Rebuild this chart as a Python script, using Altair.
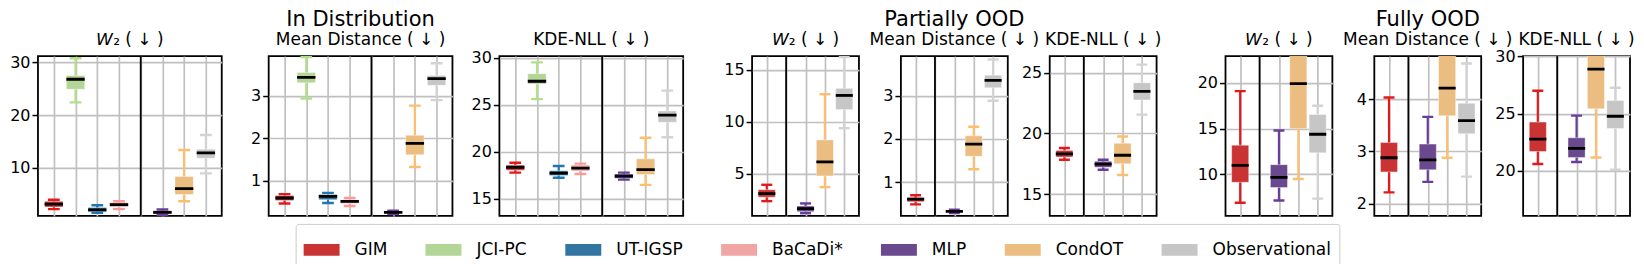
import altair as alt
import pandas as pd

methods = ["GIM", "JCI-PC", "UT-IGSP", "BaCaDi*", "MLP", "CondOT", "Observational"]
box_colors = ["#ca3334", "#b3d595", "#3275a1", "#efa6a5", "#6a498e", "#ebbd81", "#c6c6c6"]
whisker_colors = ["#e31a1c", "#b2df8a", "#1f78b4", "#fb9a99", "#6a3d9a", "#fdbf6f", "#d3d3d3"]

slots_id = ["GIM", "JCI-PC", "UT-IGSP", "BaCaDi*", "|", "MLP", "CondOT", "Observational"]
slots_ood = ["GIM", "|", "MLP", "CondOT", "Observational"]

group_titles = ["In Distribution", "Partially OOD", "Fully OOD"]
metric_titles = ["\U0001D61E\u2082 ( \u2193 )", "Mean Distance ( \u2193 )", "KDE-NLL ( \u2193 )"]

# ---- In Distribution ----
id_w2_lo = [2.1, 22.4, 1.4, 2.1, 1.0, 3.6, 8.9]
id_w2_q1 = [2.5, 24.9, 1.6, 2.5, 1.25, 4.9, 11.8]
id_w2_med = [3.05, 26.8, 1.95, 2.95, 1.5, 6.0, 12.8]
id_w2_q3 = [3.6, 27.5, 2.4, 3.35, 1.8, 8.3, 13.5]
id_w2_hi = [3.9, 30.8, 2.85, 3.6, 2.05, 13.35, 16.2]
id_w2_dom = [0.82, 31.2]
id_w2_ticks = [10, 20, 30]

id_md_lo = [0.46, 2.94, 0.47, 0.40, 0.21, 1.32, 2.90]
id_md_q1 = [0.53, 3.31, 0.55, 0.46, 0.23, 1.61, 3.25]
id_md_med = [0.59, 3.44, 0.63, 0.51, 0.25, 1.88, 3.41]
id_md_q3 = [0.65, 3.55, 0.67, 0.55, 0.27, 2.07, 3.48]
id_md_hi = [0.68, 3.92, 0.71, 0.59, 0.29, 2.77, 3.77]
id_md_dom = [0.167, 3.94]
id_md_ticks = [1, 2, 3]

id_kde_lo = [17.8, 25.6, 17.25, 17.65, 17.05, 16.5, 21.55]
id_kde_q1 = [18.05, 27.2, 17.5, 17.97, 17.2, 17.6, 23.15]
id_kde_med = [18.35, 27.5, 17.75, 18.27, 17.43, 18.12, 23.9]
id_kde_q3 = [18.6, 28.3, 18.0, 18.6, 17.65, 19.26, 24.35]
id_kde_hi = [18.85, 29.5, 18.5, 18.75, 17.8, 21.5, 26.5]
id_kde_dom = [13.2, 30.17]
id_kde_ticks = [15, 20, 25, 30]

# ---- Partially OOD ----
po_w2_lo = [2.36, 1.2, 3.71, 9.37]
po_w2_q1 = [2.74, 1.35, 4.78, 11.16]
po_w2_med = [3.08, 1.63, 6.13, 12.52]
po_w2_q3 = [3.46, 1.89, 8.24, 13.2]
po_w2_hi = [3.93, 2.14, 12.64, 16.2]
po_w2_dom = [0.94, 16.3]
po_w2_ticks = [5, 10, 15]

po_md_lo = [0.49, 0.29, 1.3, 2.88]
po_md_q1 = [0.55, 0.31, 1.6, 3.18]
po_md_med = [0.61, 0.33, 1.88, 3.35]
po_md_q3 = [0.65, 0.35, 2.07, 3.47]
po_md_hi = [0.70, 0.37, 2.28, 3.83]
po_md_dom = [0.224, 3.91]
po_md_ticks = [1, 2, 3]

po_kde_lo = [17.83, 17.0, 16.57, 21.55]
po_kde_q1 = [18.05, 17.2, 17.5, 22.76]
po_kde_med = [18.31, 17.46, 18.2, 23.46]
po_kde_q3 = [18.6, 17.7, 19.18, 24.17]
po_kde_hi = [18.8, 17.83, 19.75, 25.67]
po_kde_dom = [13.2, 26.37]
po_kde_ticks = [15, 20, 25]

# ---- Fully OOD ----
fo_w2_lo = [6.9, 7.15, 9.5, 7.36]
fo_w2_q1 = [9.14, 8.57, 15.0, 12.36]
fo_w2_med = [11.0, 9.68, 19.93, 14.39]
fo_w2_q3 = [13.2, 11.07, 24.5, 16.54]
fo_w2_hi = [19.1, 14.8, 31.0, 17.5]
fo_w2_dom = [5.47, 22.93]
fo_w2_ticks = [10, 15, 20]

fo_md_lo = [2.22, 2.42, 2.88, 2.52]
fo_md_q1 = [2.61, 2.65, 3.68, 3.34]
fo_md_med = [2.88, 2.84, 4.21, 3.59]
fo_md_q3 = [3.17, 3.14, 4.95, 3.92]
fo_md_hi = [4.03, 3.66, 5.9, 4.68]
fo_md_dom = [1.77, 4.82]
fo_md_ticks = [2, 3, 4]

fo_kde_lo = [20.6, 20.77, 21.17, 20.11]
fo_kde_q1 = [21.69, 21.17, 25.43, 23.69]
fo_kde_med = [22.77, 21.97, 28.9, 24.77]
fo_kde_q3 = [24.26, 22.89, 31.5, 26.14]
fo_kde_hi = [27.0, 24.83, 35.0, 27.26]
fo_kde_dom = [16.06, 30.03]
fo_kde_ticks = [20, 25, 30]

FONT = "DejaVu Sans"
PANEL_H = 160
W_ID = 184
W_OOD = 107
GAP_IN_ID = 47
GAP_IN_OOD = 42
GAP_GROUP = 69
SUBTITLE_GAP = 11   # baseline of metric title above panel top
GROUP_GAP = 30      # baseline of group title above panel top

legend = alt.Legend(
    orient="none", legendX=258, legendY=168, direction="horizontal", columns=7,
    title=None, symbolType="M-1,-0.333H1V0.333H-1Z", symbolSize=1296,
    symbolStrokeWidth=0, symbolOpacity=1, labelFontSize=17, labelFont=FONT,
    labelColor="black", labelOffset=15, columnPadding=38, padding=8,
    strokeColor="#cccccc", cornerRadius=3, fillColor="white", labelLimit=300,
)
color_scale = alt.Scale(domain=methods, range=box_colors)


def title_layer(text, size, width, gap):
    return alt.Chart(pd.DataFrame({"t": [text]})).mark_text(
        font=FONT, fontSize=size, color="black", align="center", baseline="alphabetic"
    ).encode(text="t:N", x=alt.value(width / 2), y=alt.value(-gap))


def make_panel(slots, lo, q1, med, q3, hi, domain, ticks, title, width, group_title=None):
    names = [s for s in slots if s != "|"]
    xs = [i for i, s in enumerate(slots) if s != "|"]
    df = pd.DataFrame({
        "method": names, "slot": xs, "lo": lo, "q1": q1, "med": med, "q3": q3, "hi": hi,
        "wc": [whisker_colors[methods.index(n)] for n in names],
    })
    div_df = pd.DataFrame({"slot": [i for i, s in enumerate(slots) if s == "|"]})
    n = len(slots)
    slot_px = width / n
    box_w = 0.8 * slot_px
    cap_w = 0.64 * box_w
    xscale = alt.Scale(domain=[-0.5, n - 0.5], nice=False, zero=False)
    yscale = alt.Scale(domain=domain, nice=False, zero=False)
    xaxis = alt.Axis(values=list(range(n)), labels=False, ticks=False, domain=False,
                     grid=True, title=None)
    yaxis = alt.Axis(values=ticks, title=None)
    x = alt.X("slot:Q", scale=xscale, axis=xaxis)

    def y(f):
        return alt.Y(f, scale=yscale, axis=yaxis)

    base = alt.Chart(df)
    divider = alt.Chart(div_df).mark_rule(color="black", strokeWidth=1.8).encode(x=x)
    whisk = base.mark_rule(strokeWidth=2.2, clip=True).encode(
        x=x, y=y("lo:Q"), y2="hi:Q", stroke=alt.Stroke("wc:N", scale=None))
    box = base.mark_bar(size=box_w, clip=True, stroke="white", strokeWidth=0.8,
                        strokeOpacity=0.5, opacity=1).encode(
        x=x, y=y("q1:Q"), y2="q3:Q",
        color=alt.Color("method:N", scale=color_scale, legend=legend))
    cap_lo = base.mark_tick(orient="horizontal", size=cap_w, thickness=2.4, clip=True,
                            opacity=1).encode(
        x=x, y=y("lo:Q"), fill=alt.Fill("wc:N", scale=None))
    cap_hi = base.mark_tick(orient="horizontal", size=cap_w, thickness=2.4, clip=True,
                            opacity=1).encode(
        x=x, y=y("hi:Q"), fill=alt.Fill("wc:N", scale=None))
    median = base.mark_tick(orient="horizontal", size=box_w, thickness=2.8, color="black",
                            clip=True, opacity=1).encode(x=x, y=y("med:Q"))
    layers = [divider, whisk, box, cap_lo, cap_hi, median,
              title_layer(title, 17, width, SUBTITLE_GAP)]
    if group_title:
        layers.append(title_layer(group_title, 21, width, GROUP_GAP))
    return alt.layer(*layers).properties(width=width, height=PANEL_H)


def spacer(w):
    return alt.Chart(pd.DataFrame({"v": [0]})).mark_point(opacity=0).properties(
        width=w, height=PANEL_H, view=alt.ViewBackground(stroke="transparent"))


panels = [
    make_panel(slots_id, id_w2_lo, id_w2_q1, id_w2_med, id_w2_q3, id_w2_hi, id_w2_dom, id_w2_ticks, metric_titles[0], W_ID),
    spacer(GAP_IN_ID),
    make_panel(slots_id, id_md_lo, id_md_q1, id_md_med, id_md_q3, id_md_hi, id_md_dom, id_md_ticks, metric_titles[1], W_ID, group_titles[0]),
    spacer(GAP_IN_ID),
    make_panel(slots_id, id_kde_lo, id_kde_q1, id_kde_med, id_kde_q3, id_kde_hi, id_kde_dom, id_kde_ticks, metric_titles[2], W_ID),
    spacer(GAP_GROUP),
    make_panel(slots_ood, po_w2_lo, po_w2_q1, po_w2_med, po_w2_q3, po_w2_hi, po_w2_dom, po_w2_ticks, metric_titles[0], W_OOD),
    spacer(GAP_IN_OOD),
    make_panel(slots_ood, po_md_lo, po_md_q1, po_md_med, po_md_q3, po_md_hi, po_md_dom, po_md_ticks, metric_titles[1], W_OOD, group_titles[1]),
    spacer(GAP_IN_OOD),
    make_panel(slots_ood, po_kde_lo, po_kde_q1, po_kde_med, po_kde_q3, po_kde_hi, po_kde_dom, po_kde_ticks, metric_titles[2], W_OOD),
    spacer(GAP_GROUP),
    make_panel(slots_ood, fo_w2_lo, fo_w2_q1, fo_w2_med, fo_w2_q3, fo_w2_hi, fo_w2_dom, fo_w2_ticks, metric_titles[0], W_OOD),
    spacer(GAP_IN_OOD),
    make_panel(slots_ood, fo_md_lo, fo_md_q1, fo_md_med, fo_md_q3, fo_md_hi, fo_md_dom, fo_md_ticks, metric_titles[1], W_OOD, group_titles[2]),
    spacer(GAP_IN_OOD),
    make_panel(slots_ood, fo_kde_lo, fo_kde_q1, fo_kde_med, fo_kde_q3, fo_kde_hi, fo_kde_dom, fo_kde_ticks, metric_titles[2], W_OOD),
]

chart = alt.hconcat(*panels, spacing=0, bounds="flush").resolve_scale(
    x="independent", y="independent"
).properties(padding=0).configure_view(
    stroke="black", strokeWidth=1.8
).configure_axis(
    labelFont=FONT, labelFontSize=16, labelColor="black", tickColor="black",
    tickWidth=1.5, tickSize=6, labelPadding=2, gridColor="#c0c0c0", gridWidth=1.7,
    domain=False,
)

chart.save("out.html", embed_options={"renderer": "svg", "actions": False})
